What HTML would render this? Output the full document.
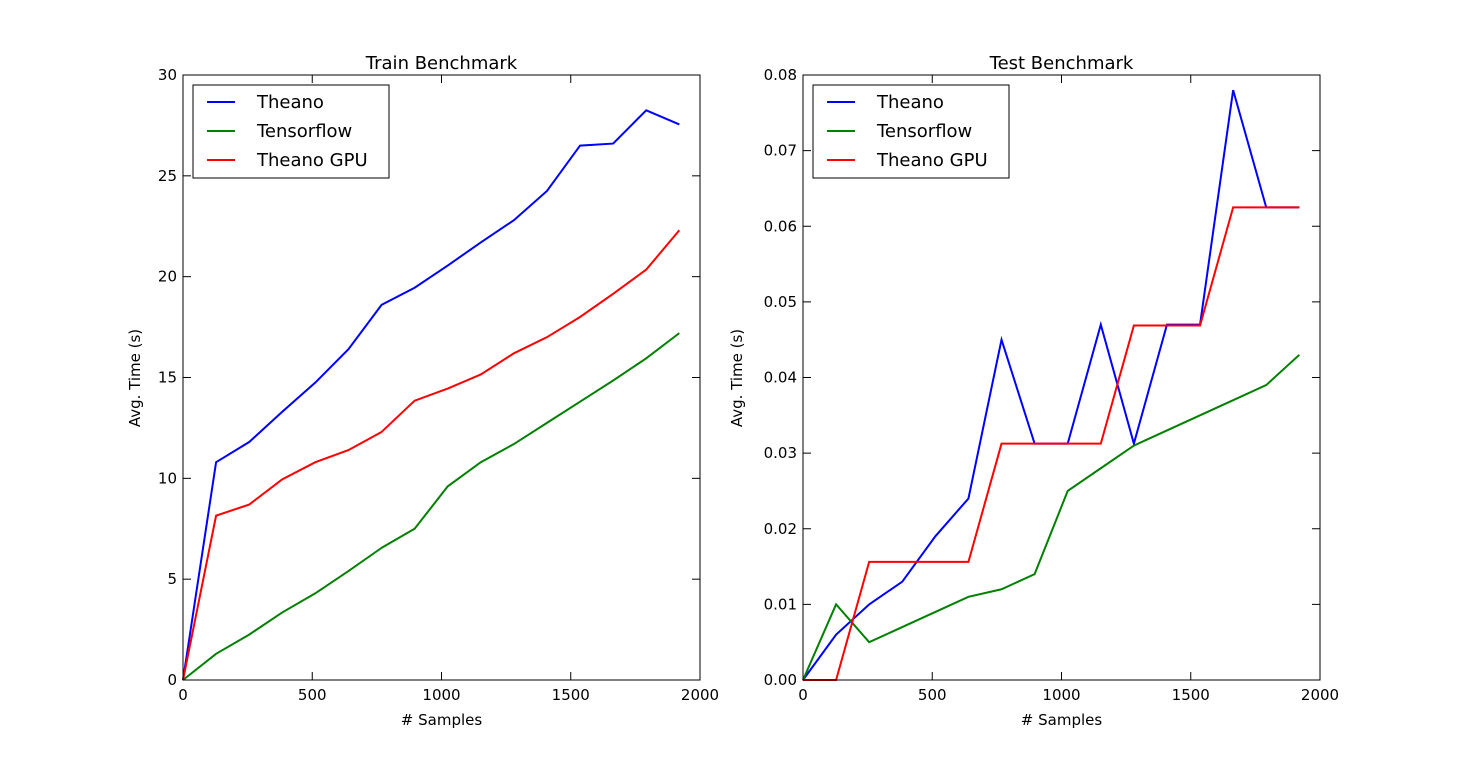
<!DOCTYPE html>
<html><head><meta charset="utf-8"><style>
body{margin:0;background:#fff;}
svg text{font-family:"DejaVu Sans","Liberation Sans",sans-serif;fill:#000;}
</style></head><body>
<svg id="chart" width="1466" height="756" xmlns="http://www.w3.org/2000/svg"></svg>
<script>
const samples=[0,128,256,384,512,640,768,896,1024,1152,1280,1408,1536,1664,1792,1920];
const trainTheano=[0,10.8,11.8,13.3,14.75,16.4,18.6,19.45,20.55,21.7,22.8,24.25,26.5,26.6,28.25,27.55];
const trainTensorflow=[0,1.3,2.25,3.35,4.3,5.4,6.55,7.5,9.6,10.8,11.7,12.75,13.8,14.85,15.95,17.2];
const trainTheanoGPU=[0,8.15,8.7,9.95,10.8,11.4,12.3,13.85,14.45,15.15,16.2,17.0,18.0,19.15,20.35,22.3];
const testTheano=[0,0.006,0.010,0.013,0.019,0.024,0.045,0.03125,0.03125,0.047,0.03125,0.047,0.047,0.078,0.0625,0.0625];
const testTensorflow=[0,0.010,0.005,0.007,0.009,0.011,0.012,0.014,0.025,0.028,0.031,0.033,0.035,0.037,0.039,0.043];
const testTheanoGPU=[0,0,0.015625,0.015625,0.015625,0.015625,0.03125,0.03125,0.03125,0.03125,0.046875,0.046875,0.046875,0.0625,0.0625,0.0625];
const xTicks=[0,500,1000,1500,2000];
const trainYTicks=[0,5,10,15,20,25,30];
const testYTicks=[0,0.01,0.02,0.03,0.04,0.05,0.06,0.07,0.08];
const testYLabels=["0.00","0.01","0.02","0.03","0.04","0.05","0.06","0.07","0.08"];
const seriesNames=["Theano","Tensorflow","Theano GPU"];
const colors=["#0000ff","#008000","#ff0000"];

const svg=document.getElementById('chart');
const NS="http://www.w3.org/2000/svg";
function mk(tag,attrs,parent){const e=document.createElementNS(NS,tag);for(const k in attrs)e.setAttribute(k,attrs[k]);(parent||svg).appendChild(e);return e;}

function panel(key,left,title,yMax,yTicks,yLabels,series,yTitleOff){
  const top=75,bottom=680,right=left+517;
  const g=mk('g',{});
  
  
  const xs=v=>left+(v/2000)*(right-left);
  const ys=v=>bottom-(v/yMax)*(bottom-top);
  series.forEach((d,i)=>{
    const p=mk('polyline',{points:d.map((v,j)=>xs(samples[j])+','+ys(v)).join(' '),fill:'none',stroke:colors[i],'stroke-width':2},g);
    
    
  });
  const fr=mk('rect',{x:left,y:top,width:right-left,height:bottom-top,fill:'none',stroke:'#000','stroke-width':1},g);
  
  
  xTicks.forEach(t=>{
    const x=xs(t);
    mk('line',{x1:x,x2:x,y1:bottom,y2:bottom-8,stroke:'#000'},g);
    mk('line',{x1:x,x2:x,y1:top,y2:top+8,stroke:'#000'},g);
    const tx=mk('text',{x:x,y:bottom+20,'text-anchor':'middle','font-size':15},g);
    tx.textContent=t;
    
    
  });
  yTicks.forEach((t,i)=>{
    const y=ys(t);
    mk('line',{x1:left,x2:left+8,y1:y,y2:y,stroke:'#000'},g);
    mk('line',{x1:right,x2:right-8,y1:y,y2:y,stroke:'#000'},g);
    const tx=mk('text',{x:left-6,y:y+5,'text-anchor':'end','font-size':15},g);
    tx.textContent=yLabels[i];
    
    
  });
  const tt=mk('text',{x:(left+right)/2,y:69,'text-anchor':'middle','font-size':18},g);
  tt.textContent=title;
  
  
  const xl=mk('text',{x:(left+right)/2,y:725,'text-anchor':'middle','font-size':15},g);
  xl.textContent='# Samples';
  
  
  const yl=mk('text',{x:0,y:0,'text-anchor':'middle','font-size':15,transform:'translate('+(left-yTitleOff)+',378) rotate(-90)'},g);
  yl.textContent='Avg. Time (s)';
  
  
  const lg=mk('g',{},g);
  
  
  mk('rect',{x:left+10,y:85,width:196,height:93,fill:'#fff',stroke:'#000'},lg);
  seriesNames.forEach((n,i)=>{
    const y=102+i*29;
    mk('line',{x1:left+24,x2:left+52,y1:y,y2:y,stroke:colors[i],'stroke-width':2},lg);
    const tx=mk('text',{x:left+74,y:y+6,'font-size':18},lg);
    tx.textContent=n;
    
    
  });
}
panel('train',183,'Train Benchmark',30,trainYTicks,trainYTicks.map(String),[trainTheano,trainTensorflow,trainTheanoGPU],43);
panel('test',803,'Test Benchmark',0.08,testYTicks,testYLabels,[testTheano,testTensorflow,testTheanoGPU],61);
</script>
</body></html>
